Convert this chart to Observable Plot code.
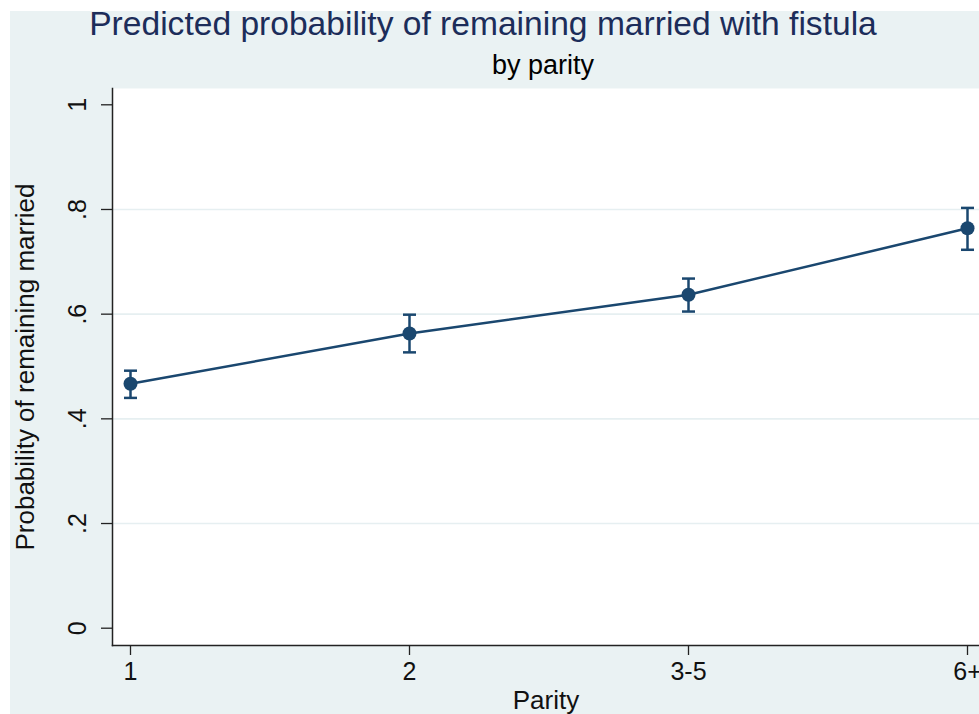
<!DOCTYPE html>
<html><head><meta charset="utf-8">
<script src="https://cdn.jsdelivr.net/npm/d3@7"></script>
<script src="https://cdn.jsdelivr.net/npm/@observablehq/plot@0.6"></script>
<style>
html,body{margin:0;padding:0;background:#fff;width:979px;height:714px;overflow:hidden;}
#bg{position:absolute;left:10px;top:11px;width:969px;height:703px;background:#eaf2f3;}
#chart{position:absolute;left:0;top:0;}
.t{position:absolute;width:1000px;text-align:center;white-space:nowrap;line-height:1;font-family:"Liberation Sans",Arial,sans-serif;}
</style></head><body>
<div id="bg"></div>
<div id="chart"></div>
<div class="t" id="title" style="left:-17px;top:7px;font-size:33.6px;color:#1c2d5a;"></div>
<div class="t" id="sub" style="left:43px;top:52px;font-size:27px;color:#000;"></div>
<script>
const titleText = "Predicted probability of remaining married with fistula";
const subtitleText = "by parity";
const xTitle = "Parity";
const yTitle = "Probability of remaining married";
const parity = ["1", "2", "3-5", "6+"];
const prob = [0.467, 0.563, 0.637, 0.764];
const lower = [0.440, 0.527, 0.605, 0.723];
const upper = [0.492, 0.599, 0.668, 0.803];
const yTicks = [0, 0.2, 0.4, 0.6, 0.8, 1];
const yTickLabels = ["0", ".2", ".4", ".6", ".8", "1"];
const gridTicks = [0.2, 0.4, 0.6, 0.8];

document.getElementById("title").textContent = titleText;
document.getElementById("sub").textContent = subtitleText;

const data = parity.map((p, i) => ({parity: p, p: prob[i], lo: lower[i], hi: upper[i]}));
const navy = "#1a476f";
const ink = "#111";
const capSymbol = {
  draw(ctx, size) {
    const h = Math.sqrt(size / Math.PI);
    ctx.moveTo(-h, 0);
    ctx.lineTo(h, 0);
  }
};

const chart = Plot.plot({
  width: 979,
  height: 714,
  marginLeft: 112,
  marginRight: 0,
  marginTop: 88,
  marginBottom: 69,
  style: {fontFamily: "Liberation Sans, Arial, sans-serif", background: "transparent", overflow: "visible"},
  x: {type: "point", domain: parity, range: [129, 968], padding: 0},
  y: {domain: [0, 1], range: [627.7, 104.3]},
  marks: [
    Plot.frame({fill: "white", stroke: "none"}),
    Plot.ruleY(gridTicks, {stroke: "#e6eff1", strokeWidth: 1.6}),
    Plot.frame({anchor: "left", stroke: "#222", strokeWidth: 1.5}),
    Plot.frame({anchor: "bottom", stroke: "#222", strokeWidth: 1.5}),
    Plot.axisY({ticks: yTicks, tickSize: 11, tickFormat: () => "", label: null, stroke: "#222", strokeWidth: 1.3}),
    Plot.axisX({tickSize: 10, tickFormat: () => "", label: null, stroke: "#222", strokeWidth: 1.3}),
    Plot.text(yTicks, {y: d => d, text: (d, i) => yTickLabels[i], frameAnchor: "left", dx: -35, rotate: -90, textAnchor: "middle", lineAnchor: "middle", fontSize: 25, fill: ink}),
    Plot.text(parity, {x: d => d, text: d => d, frameAnchor: "bottom", dy: 26, textAnchor: "middle", lineAnchor: "middle", fontSize: 25, fill: ink}),
    Plot.text([yTitle], {text: d => d, frameAnchor: "left", dx: -87, rotate: -90, textAnchor: "middle", lineAnchor: "middle", fontSize: 26, fill: ink}),
    Plot.text([xTitle], {text: d => d, frameAnchor: "bottom", dy: 55, textAnchor: "middle", lineAnchor: "middle", fontSize: 26, fill: ink}),
    Plot.line(data, {x: "parity", y: "p", stroke: navy, strokeWidth: 2.5}),
    Plot.ruleX(data, {x: "parity", y1: "lo", y2: "hi", stroke: navy, strokeWidth: 2.5}),
    Plot.dot(data, {x: "parity", y: "lo", symbol: capSymbol, r: 6.5, stroke: navy, strokeWidth: 2.5, fill: "none"}),
    Plot.dot(data, {x: "parity", y: "hi", symbol: capSymbol, r: 6.5, stroke: navy, strokeWidth: 2.5, fill: "none"}),
    Plot.dot(data, {x: "parity", y: "p", r: 7, fill: navy, stroke: "none"})
  ]
});
document.getElementById("chart").appendChild(chart);
</script>
</body></html>
